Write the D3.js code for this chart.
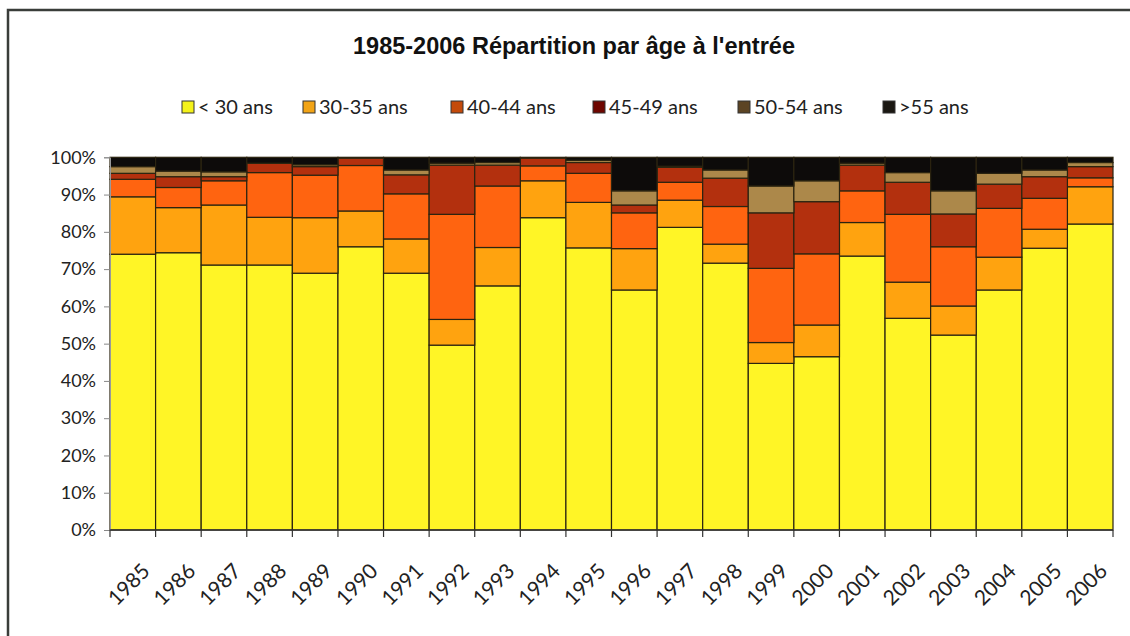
<!DOCTYPE html>
<html>
<head>
<meta charset="utf-8">
<script src="https://cdn.jsdelivr.net/npm/d3@7"></script>
<style>
  body { margin: 0; background: #fff; }
  svg { display: block; }
  .tick text { font-family: Lato, "Open Sans", sans-serif; fill: #222; }
</style>
</head>
<body>
<div id="chart"></div>
<script>
const years = ['1985','1986','1987','1988','1989','1990','1991','1992','1993','1994','1995',
  '1996','1997','1998','1999','2000','2001','2002','2003','2004','2005','2006']

// % of entrants by age group
const under30 = [74.0, 74.4, 71.1, 71.1, 68.9, 76.0, 68.9, 49.6, 65.5, 83.8, 75.7, 64.4, 81.2, 71.6, 44.7, 46.5, 73.5, 56.8, 52.3, 64.4, 75.6, 82.1]
const age30to35 = [15.4, 12.1, 16.1, 12.8, 14.9, 9.6, 9.2, 6.9, 10.3, 9.9, 12.2, 11.1, 7.3, 5.1, 5.6, 8.5, 9.0, 9.7, 7.8, 8.8, 5.1, 10.0]
const age40to44 = [4.7, 5.4, 6.5, 12.0, 11.4, 12.2, 12.1, 28.2, 16.5, 4.0, 7.8, 9.6, 4.8, 10.1, 19.9, 19.1, 8.5, 18.2, 15.9, 13.1, 8.3, 2.4]
const age45to49 = [1.6, 2.9, 1.1, 2.5, 2.3, 2.0, 5.1, 13.2, 5.6, 2.1, 2.9, 2.1, 4.0, 7.6, 14.9, 14.0, 6.9, 8.6, 8.8, 6.5, 5.8, 3.0]
const age50to54 = [1.8, 1.5, 1.3, 0, 0.5, 0, 1.3, 0.5, 0.7, 0, 0.6, 3.8, 0.3, 2.2, 7.2, 5.6, 0.5, 2.6, 6.2, 2.9, 1.8, 1.1]
const over55 = [2.5, 3.7, 3.9, 1.6, 2.0, 0.2, 3.4, 1.6, 1.4, 0.2, 0.8, 9.0, 2.4, 3.4, 7.7, 6.3, 1.6, 4.1, 9.0, 4.3, 3.4, 1.4]

const groups = ['< 30 ans', '30-35 ans', '40-44 ans', '45-49 ans', '50-54 ans', '>55 ans']
const series = [under30, age30to35, age40to44, age45to49, age50to54, over55]
const colors = ['#fff526', '#ffa30f', '#ff6410', '#b3300e', '#ac884a', '#0d0b0a']
const legendColors = ['#f4f21a', '#f2a416', '#c44a0a', '#6e0600', '#5c4424', '#1a1712']

const rows = years.map((y, i) => {
  const r = {year: y}
  groups.forEach((g, k) => { r[g] = series[k][i] })
  return r
})

const W = 1130, H = 636
const svg = d3.select('#chart').append('svg')
  .attr('width', W)
  .attr('height', H)

// frame of the chart area
svg.append('rect')
  .attr('x', 8).attr('y', 10)
  .attr('width', W + 20).attr('height', H + 20)
  .attr('fill', 'none')
  .attr('stroke', '#3a3d3a')
  .attr('stroke-width', 2.5)

const x = d3.scaleBand().domain(years).range([110, 1113]).padding(0)
const y = d3.scaleLinear().domain([0, 1]).range([530, 157.3])

const stacked = d3.stack().keys(groups).offset(d3.stackOffsetExpand)(rows)

svg.append('g').selectAll('g').data(stacked).enter().append('g')
    .attr('fill', (d, i) => colors[i])
  .selectAll('rect').data(d => d).enter().append('rect')
    .attr('x', d => x(d.data.year))
    .attr('width', x.bandwidth())
    .attr('y', d => y(d[1]))
    .attr('height', d => y(d[0]) - y(d[1]))
    .attr('stroke', '#2b2410')
    .attr('stroke-width', 1.2)

// y axis
const yAxis = svg.append('g')
  .attr('transform', 'translate(110,0)')
  .call(d3.axisLeft(y).ticks(10).tickFormat(d3.format('.0%')).tickSize(6).tickPadding(8))
yAxis.select('.domain').attr('stroke', '#999')
yAxis.selectAll('.tick line').attr('stroke', '#888')
yAxis.selectAll('.tick text').attr('font-size', 18).attr('textLength', null)

// x axis: ticks on band boundaries
const xAxisG = svg.append('g').attr('transform', 'translate(0,530)')
xAxisG.append('line')
  .attr('x1', 110).attr('x2', 1113)
  .attr('stroke', '#333').attr('stroke-width', 1.5)
xAxisG.selectAll('line.tk').data(years.concat(['end'])).enter().append('line')
  .attr('class', 'tk')
  .attr('x1', (d, i) => i < years.length ? x(d) : x.range()[1])
  .attr('x2', (d, i) => i < years.length ? x(d) : x.range()[1])
  .attr('y1', 0).attr('y2', 7)
  .attr('stroke', '#333').attr('stroke-width', 1.2)
xAxisG.selectAll('text').data(years).enter().append('text')
  .attr('transform', d => `translate(${x(d) + x.bandwidth() / 2 + 8},${32}) rotate(-45)`)
  .attr('text-anchor', 'end')
  .attr('dy', '0.7em')
  .attr('font-family', 'Lato, "Open Sans", sans-serif')
  .attr('font-size', 21)
  .attr('fill', '#222')
  .text(d => d)

// title
svg.append('text')
  .attr('x', 574).attr('y', 54)
  .attr('text-anchor', 'middle')
  .attr('font-family', '"Liberation Sans Narrow", "Liberation Sans", Arial, sans-serif')
  .attr('font-weight', 'bold')
  .attr('font-size', 24)
  .attr('textLength', 442)
  .attr('lengthAdjust', 'spacingAndGlyphs')
  .attr('fill', '#111')
  .text('1985-2006 Répartition par âge à l\'entrée')

// legend
const legendX = [182, 303, 451, 593, 738, 883]
const legend = svg.append('g').selectAll('g').data(groups).enter().append('g')
  .attr('transform', (d, i) => `translate(${legendX[i]},107)`)
legend.append('rect')
  .attr('x', 0).attr('y', -6)
  .attr('width', 12).attr('height', 12)
  .attr('fill', (d, i) => legendColors[i])
  .attr('stroke', '#333').attr('stroke-width', 1)
legend.append('text')
  .attr('x', 16).attr('y', 0)
  .attr('dy', '0.35em')
  .attr('font-family', 'Lato, "Open Sans", sans-serif')
  .attr('font-size', 20)
  .attr('fill', '#222')
  .text(d => d)
</script>
</body>
</html>
